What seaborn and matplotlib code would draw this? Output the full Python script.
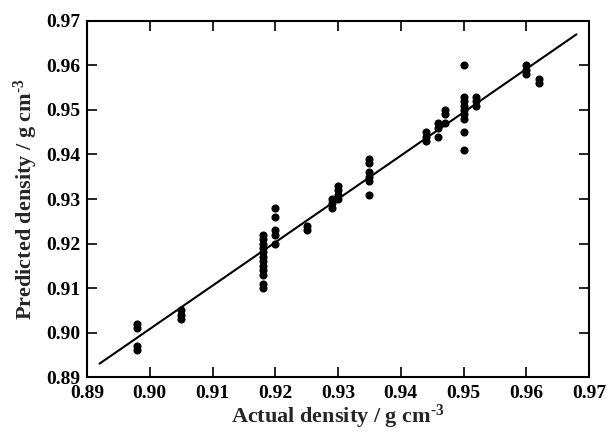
import matplotlib
matplotlib.use("Agg")
import matplotlib.pyplot as plt
import seaborn as sns
import pandas as pd

# Data
actual = ([0.898] * 4 + [0.905] * 3 + [0.918] * 12 + [0.920] * 5 + [0.925] * 2 +
          [0.929] * 3 + [0.930] * 4 + [0.935] * 6 + [0.944] * 3 + [0.946] * 3 +
          [0.947] * 3 + [0.950] * 9 + [0.952] * 3 + [0.960] * 3 + [0.962] * 2)
predicted = [0.902, 0.901, 0.897, 0.896,
             0.905, 0.904, 0.903,
             0.910, 0.911, 0.913, 0.914, 0.915, 0.916, 0.917, 0.918, 0.919, 0.920, 0.921, 0.922,
             0.928, 0.926, 0.923, 0.922, 0.920,
             0.924, 0.923,
             0.930, 0.929, 0.928,
             0.933, 0.932, 0.931, 0.930,
             0.939, 0.938, 0.936, 0.935, 0.934, 0.931,
             0.945, 0.944, 0.943,
             0.947, 0.946, 0.944,
             0.950, 0.949, 0.947,
             0.960, 0.953, 0.952, 0.951, 0.950, 0.949, 0.948, 0.945, 0.941,
             0.953, 0.952, 0.951,
             0.960, 0.959, 0.958,
             0.957, 0.956]
fit_x = [0.892, 0.968]
fit_y = [0.893, 0.967]
ticks = [0.89, 0.90, 0.91, 0.92, 0.93, 0.94, 0.95, 0.96, 0.97]

df = pd.DataFrame({"actual": actual, "predicted": predicted})

sns.set_theme(style="ticks")
plt.rcParams["font.family"] = ["Liberation Serif", "DejaVu Serif"]
plt.rcParams["font.weight"] = "bold"
plt.rcParams["mathtext.fontset"] = "custom"
plt.rcParams["mathtext.rm"] = "Liberation Serif:bold"
plt.rcParams["mathtext.bf"] = "Liberation Serif:bold"
plt.rcParams["mathtext.it"] = "Liberation Serif:bold"

fig = plt.figure(figsize=(6.11, 4.32), dpi=100)
ax = fig.add_axes([0.1424, 0.1273, 0.8216, 0.8241])

sns.scatterplot(data=df, x="actual", y="predicted", ax=ax, color="black",
                s=34, edgecolor="black", linewidth=0, legend=False, zorder=3)
sns.lineplot(x=fit_x, y=fit_y, ax=ax, color="black", linewidth=1.5, zorder=2)

ax.set_xlim(0.89, 0.97)
ax.set_ylim(0.89, 0.97)
ax.set_xticks(ticks)
ax.set_yticks(ticks)
ax.set_xticklabels([f"{t:.2f}" for t in ticks], fontsize=14, fontweight="bold")
ax.set_yticklabels([f"{t:.2f}" for t in ticks], fontsize=14, fontweight="bold")
ax.tick_params(direction="in", top=True, right=True, length=7, width=1.2,
               colors="black")
ax.tick_params(axis="y", pad=5)
ax.tick_params(axis="x", pad=6)
for sp in ax.spines.values():
    sp.set_visible(True)
    sp.set_linewidth(1.5)
    sp.set_color("black")

ax.set_xlabel(r"Actual density / g cm$^{\text{-3}}$", fontsize=16, fontweight="bold", labelpad=0)
ax.set_ylabel(r"Predicted density / g cm$^{\text{-3}}$", fontsize=16, fontweight="bold", labelpad=4)

fig.savefig("out.png", dpi=100, facecolor="white")
